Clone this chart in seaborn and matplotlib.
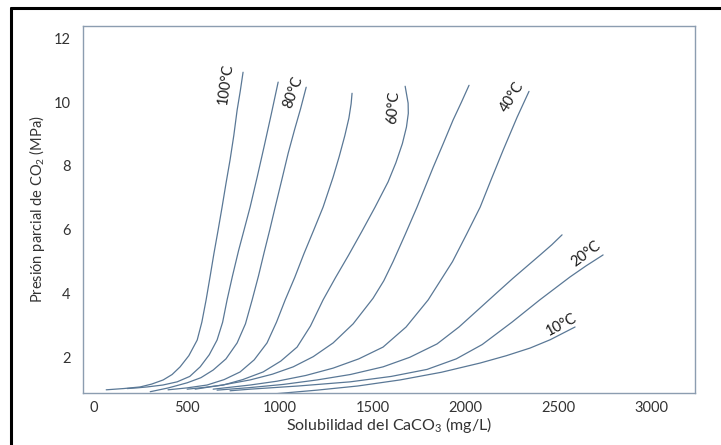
import matplotlib
matplotlib.use("Agg")
import matplotlib.pyplot as plt
import pandas as pd
import seaborn as sns
from matplotlib.lines import Line2D

# Solubility curves of CaCO3 versus CO2 partial pressure, one per temperature
temps = ["100°C", "90°C", "80°C", "70°C", "60°C", "50°C", "40°C", "30°C", "20°C", "10°C"]

x_100 = [65, 160, 248, 310, 372, 420, 463, 510, 555, 580, 603, 625, 645, 668,
         689, 710, 732, 752, 770, 787, 802]
y_100 = [0.98, 1.02, 1.07, 1.16, 1.29, 1.46, 1.70, 2.05, 2.54, 3.10, 3.80, 4.55,
         5.25, 6.00, 6.71, 7.45, 8.19, 8.95, 9.75, 10.35, 10.94]

x_90 = [178, 230, 285, 370, 447, 515, 571, 620, 662, 692, 716, 745, 778, 810,
        840, 878, 915, 953, 991]
y_90 = [1.02, 1.04, 1.07, 1.13, 1.23, 1.40, 1.70, 2.08, 2.54, 3.10, 3.80, 4.55,
        5.35, 6.05, 6.71, 7.65, 8.60, 9.60, 10.63]

x_80 = [302, 400, 501, 575, 641, 710, 770, 815, 851, 885, 916, 946, 975, 1010,
        1045, 1080, 1112, 1142]
y_80 = [0.92, 1.04, 1.20, 1.36, 1.60, 1.95, 2.45, 3.05, 3.80, 4.55, 5.30, 6.00,
        6.71, 7.55, 8.40, 9.15, 9.80, 10.47]

x_70 = [398, 500, 608, 700, 786, 862, 931, 982, 1029, 1080, 1130, 1182, 1233,
        1287, 1320, 1350, 1372, 1384, 1389]
y_70 = [0.98, 1.04, 1.13, 1.30, 1.54, 1.92, 2.45, 3.10, 3.80, 4.50, 5.25, 5.98,
        6.71, 7.65, 8.30, 8.95, 9.50, 9.95, 10.28]

x_60 = [501, 600, 695, 800, 910, 1005, 1093, 1165, 1233, 1300, 1370, 1442, 1513,
        1583, 1625, 1660, 1682, 1692, 1691, 1675]
y_60 = [1.00, 1.06, 1.13, 1.30, 1.54, 1.88, 2.32, 2.98, 3.80, 4.50, 5.20, 5.95,
        6.71, 7.50, 8.10, 8.70, 9.22, 9.65, 9.97, 10.50]

x_50 = [544, 690, 840, 960, 1072, 1180, 1287, 1395, 1502, 1560, 1610, 1675, 1739,
        1826, 1880, 1933, 1978, 2019]
y_50 = [1.00, 1.13, 1.29, 1.47, 1.70, 2.02, 2.45, 3.05, 3.85, 4.40, 5.00, 5.85,
        6.71, 7.96, 8.70, 9.44, 10.00, 10.53]

x_40 = [641, 840, 985, 1140, 1287, 1425, 1556, 1680, 1799, 1870, 1930, 2005, 2079,
        2140, 2203, 2278, 2342]
y_40 = [1.00, 1.13, 1.25, 1.43, 1.66, 1.95, 2.32, 2.95, 3.80, 4.45, 5.00, 5.85,
        6.71, 7.60, 8.50, 9.53, 10.34]

x_30 = [662, 840, 1020, 1201, 1380, 1556, 1700, 1847, 1965, 2079, 2170, 2256, 2330,
        2402, 2465, 2520]
y_30 = [0.97, 1.05, 1.15, 1.29, 1.46, 1.70, 2.00, 2.42, 2.95, 3.55, 4.03, 4.48,
        4.85, 5.21, 5.53, 5.84]

x_20 = [732, 840, 1100, 1379, 1600, 1793, 1950, 2090, 2250, 2400, 2563, 2650, 2741]
y_20 = [0.95, 1.00, 1.10, 1.23, 1.40, 1.62, 1.95, 2.40, 3.10, 3.80, 4.52, 4.87, 5.21]

x_10 = [964, 1201, 1420, 1648, 1870, 2079, 2220, 2348, 2456, 2590]
y_10 = [0.85, 0.97, 1.10, 1.29, 1.53, 1.82, 2.05, 2.29, 2.55, 2.95]

series = {
    "100°C": (x_100, y_100), "90°C": (x_90, y_90), "80°C": (x_80, y_80),
    "70°C": (x_70, y_70), "60°C": (x_60, y_60), "50°C": (x_50, y_50),
    "40°C": (x_40, y_40), "30°C": (x_30, y_30), "20°C": (x_20, y_20),
    "10°C": (x_10, y_10),
}

# Inline curve labels: (text, solubility, pressure, rotation)
curve_labels = [
    ("100°C", 711, 10.57, 82),
    ("80°C", 1072, 10.32, 70),
    ("60°C", 1610, 9.85, 86),
    ("40°C", 2251, 10.16, 58),
    ("20°C", 2649, 5.24, 37),
    ("10°C", 2515, 3.02, 28),
]

x_ticks = [0, 500, 1000, 1500, 2000, 2500, 3000]
y_ticks = [2, 4, 6, 8, 10, 12]

rows = []
for t in temps:
    xs, ys = series[t]
    for i, (xv, yv) in enumerate(zip(xs, ys)):
        rows.append({"temp": t, "step": i, "sol": xv, "pres": yv})
df = pd.DataFrame(rows)

sns.set_theme(style="white")
plt.rcParams["font.family"] = ["Lato", "DejaVu Sans"]
plt.rcParams["mathtext.fontset"] = "custom"
plt.rcParams["mathtext.rm"] = "Lato"
plt.rcParams["mathtext.it"] = "Lato:italic"

line_color = "#5a7896"
spine_color = "#8c9db0"
text_color = "#333333"

fig = plt.figure(figsize=(7.21, 4.45), dpi=100)
ax = fig.add_axes([83 / 721, 1 - 393 / 445, 612 / 721, 367 / 445])

sns.lineplot(data=df, x="sol", y="pres", hue="temp", units="temp",
             estimator=None, sort=False, palette=[line_color] * len(temps),
             legend=False, linewidth=0.9, ax=ax)

for txt, xv, yv, rot in curve_labels:
    ax.text(xv, yv, txt, rotation=rot, ha="center", va="center",
            rotation_mode="anchor", fontsize=10.5, color="#1a1a1a")

ax.set_xlim(-60, 3236)
ax.set_ylim(0.88, 12.39)
ax.set_xticks(x_ticks)
ax.set_yticks(y_ticks)
ax.tick_params(length=0, labelsize=10.5, labelcolor=text_color)
ax.tick_params(axis="y", pad=9)
ax.tick_params(axis="x", pad=6)
for s in ax.spines.values():
    s.set_color(spine_color)
    s.set_linewidth(1.0)

ax.set_xlabel("Solubilidad del CaCO$_3$ (mg/L)", fontsize=11.5, color=text_color, labelpad=0)
ax.set_ylabel("Presión parcial de CO$_2$ (MPa)", fontsize=10.5, color=text_color, labelpad=5)

# Outer black frame along the left and top edges
fig.add_artist(Line2D([10.5 / 721, 10.5 / 721], [0, 1 - 7.5 / 445], color="black", linewidth=2.2))
fig.add_artist(Line2D([10.5 / 721, 1], [1 - 7.5 / 445, 1 - 7.5 / 445], color="black", linewidth=2.2))

fig.savefig("out.png", dpi=100)
